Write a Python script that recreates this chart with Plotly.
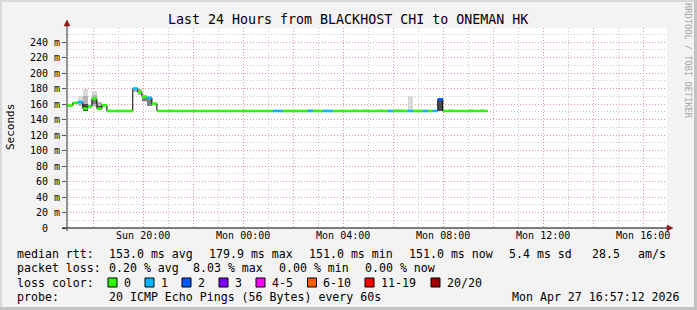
import plotly.graph_objects as go
import pandas as pd

# ---------------- data ----------------
t_start = "2026-04-26 16:57:12"
t_end = "2026-04-27 16:57:12"

# median rtt steps (ms) and packet loss count per step
med_start = [
    "2026-04-26 16:57", "2026-04-26 17:11", "2026-04-26 17:23", "2026-04-26 17:35",
    "2026-04-26 17:47", "2026-04-26 17:57", "2026-04-26 18:09", "2026-04-26 18:21",
    "2026-04-26 18:33", "2026-04-26 19:35", "2026-04-26 19:47", "2026-04-26 19:57",
    "2026-04-26 20:09", "2026-04-26 20:21", "2026-04-26 20:33", "2026-04-27 01:11",
    "2026-04-27 01:35", "2026-04-27 02:35", "2026-04-27 02:47", "2026-04-27 03:11",
    "2026-04-27 03:35", "2026-04-27 05:47", "2026-04-27 05:59", "2026-04-27 06:35",
    "2026-04-27 06:47", "2026-04-27 07:11", "2026-04-27 07:23", "2026-04-27 07:35",
    "2026-04-27 07:47", "2026-04-27 07:59",
]
med_last_end = "2026-04-27 09:47"
med_val = [158, 161.5, 162.5, 154, 157, 167, 154, 158.5, 151, 180, 175.5, 169.5,
           168, 160.5, 151, 151, 151, 151, 151, 151, 151, 151, 151, 151, 151, 151,
           151, 151, 166, 151]
med_loss = [0, 0, 1, 0, 0, 0, 0, 0, 0, 1, 0, 0, 1, 0, 0, 1, 0, 1, 0, 1, 0, 1, 0, 1,
            0, 1, 0, 1, 2, 0]

# smoke (spread of the 20 pings) as bands: start, end, low, high, density level 1..4
smoke_start = [
    "2026-04-26 17:23", "2026-04-26 17:23", "2026-04-26 17:35", "2026-04-26 17:35",
    "2026-04-26 17:35", "2026-04-26 17:47", "2026-04-26 17:57", "2026-04-26 17:57",
    "2026-04-26 17:57", "2026-04-26 18:09", "2026-04-26 18:09", "2026-04-26 18:21",
    "2026-04-26 19:35", "2026-04-26 19:47", "2026-04-26 19:57", "2026-04-26 19:57",
    "2026-04-26 20:09", "2026-04-26 20:09", "2026-04-26 20:21", "2026-04-26 21:01",
    "2026-04-27 02:35", "2026-04-27 04:23", "2026-04-27 04:47", "2026-04-27 05:23",
    "2026-04-27 05:59", "2026-04-27 06:35", "2026-04-27 07:47", "2026-04-27 08:11",
    "2026-04-27 08:59", "2026-04-27 09:28",
]
smoke_end = [
    "2026-04-26 17:35", "2026-04-26 17:35", "2026-04-26 17:47", "2026-04-26 17:47",
    "2026-04-26 17:47", "2026-04-26 17:57", "2026-04-26 18:09", "2026-04-26 18:09",
    "2026-04-26 18:09", "2026-04-26 18:21", "2026-04-26 18:21", "2026-04-26 18:33",
    "2026-04-26 19:47", "2026-04-26 19:57", "2026-04-26 20:09", "2026-04-26 20:09",
    "2026-04-26 20:21", "2026-04-26 20:21", "2026-04-26 20:33", "2026-04-26 21:13",
    "2026-04-27 02:47", "2026-04-27 04:35", "2026-04-27 04:59", "2026-04-27 05:35",
    "2026-04-27 06:23", "2026-04-27 06:47", "2026-04-27 07:59", "2026-04-27 08:23",
    "2026-04-27 09:11", "2026-04-27 09:40",
]
smoke_lo = [157, 158, 151, 151, 151, 153, 156, 158, 160, 152, 152, 155,
            176, 171, 163, 164, 158, 158, 157, 151,
            151, 151, 151, 151, 151, 151, 151, 151, 151, 151]
smoke_hi = [170, 163, 179, 170, 160, 160, 177, 172, 168, 162, 157, 160,
            181, 179, 172, 169, 169, 166, 161, 153.5,
            153.5, 153.5, 153.5, 153.5, 153.5, 170, 166, 153.5, 153.5, 153.5]
smoke_level = [1, 2, 1, 2, 4, 1, 1, 2, 3, 2, 4, 1,
               2, 2, 1, 3, 2, 3, 1, 1,
               1, 1, 1, 1, 1, 1, 4, 1, 1, 1]

loss_labels = ["0", "1", "2", "3", "4-5", "6-10", "11-19", "20/20"]
loss_colors = ["#26ff00", "#00b8ff", "#0059ff", "#7e00ff", "#ff00ff", "#ff5e00",
               "#ff0000", "#a10000"]

y_tick_vals = list(range(0, 241, 20))
y_tick_text = ["0\u00a0\u00a0"] + [f"{v} m" for v in y_tick_vals[1:]]

title_text = "Last 24 Hours from BLACKHOST CHI to ONEMAN HK"
stats_rtt = [("median rtt:", 16), ("153.0 ms avg", 107.6), ("179.9 ms max", 207.6),
             ("151.0 ms min", 307.6), ("151.0 ms now", 407.6), ("5.4 ms sd", 507.6),
             ("28.5", 591), ("am/s", 637)]
stats_loss = [("packet loss:", 16), ("0.20 % avg", 107.6), ("8.03 % max", 192),
              ("0.00 % min", 278), ("0.00 % now", 364)]
probe_text = "20 ICMP Echo Pings (56 Bytes) every 60s"
stamp_text = "Mon Apr 27 16:57:12 2026"

# ---------------- geometry helpers ----------------
W, H = 697, 310
L, R, T, B = 67, 30, 28, 82
PW, PH = W - L - R, H - T - B


def px(x):
    return (x - L) / PW


def py(y):
    return (T + PH - y) / PH


FONT = "DejaVu Sans Mono"
LEG = 11.6
fig = go.Figure()

# smoke bands
shade = {1: "#d9d9d9", 2: "#b4b4b4", 3: "#808080", 4: "#4a4a4a"}
for lvl in (1, 2, 3, 4):
    xs, ws, bs, hs = [], [], [], []
    for s, e, lo, hi, lv in zip(smoke_start, smoke_end, smoke_lo, smoke_hi, smoke_level):
        if lv != lvl:
            continue
        s_, e_ = pd.Timestamp(s), pd.Timestamp(e)
        xs.append(s_ + (e_ - s_) / 2)
        ws.append((e_ - s_).total_seconds() * 1000)
        bs.append(lo)
        hs.append(hi - lo)
    fig.add_trace(go.Bar(x=xs, y=hs, base=bs, width=ws, marker_color=shade[lvl],
                         marker_line_width=0, showlegend=False, hoverinfo="skip"))

# black median step line
step_x = med_start + [med_last_end]
step_y = med_val + [med_val[-1]]
fig.add_trace(go.Scatter(x=step_x, y=step_y, mode="lines", line_shape="hv",
                         line=dict(color="black", width=1), showlegend=False,
                         hoverinfo="skip"))

# colored median segments by loss
seg_end = med_start[1:] + [med_last_end]
for ci, col in enumerate(loss_colors):
    xs, ys = [], []
    for s, e, v, lo in zip(med_start, seg_end, med_val, med_loss):
        if lo == ci:
            xs += [s, e, None]
            ys += [v, v, None]
    if xs:
        fig.add_trace(go.Scatter(x=xs, y=ys, mode="lines",
                                 line=dict(color=col, width=2.6), showlegend=False,
                                 hoverinfo="skip"))

# x ticks every 2 hours, labelled every 4
tick_times = pd.date_range("2026-04-26 18:00", "2026-04-27 16:00", freq="2h")
x_tick_vals = list(tick_times)
x_tick_text = [t.strftime("%a %H:%M") if t.hour % 4 == 0 else "" for t in tick_times]

major_grid = "rgba(240,110,110,0.55)"
minor_grid = "#c9c9c9"

fig.update_xaxes(type="date", range=[t_start, t_end], tickvals=x_tick_vals,
                 ticktext=x_tick_text, showgrid=True, gridcolor=major_grid,
                 griddash="1px,2px", gridwidth=1, ticks="", zeroline=False,
                 showline=False, tickfont=dict(family=FONT, size=10, color="black"),
                 minor=dict(dtick=3600000, tick0="2026-04-26 17:00", showgrid=True,
                            gridcolor=minor_grid, griddash="1px,2px", ticks=""),
                 fixedrange=True)
fig.update_yaxes(range=[0, (PH) / 0.775], tickvals=y_tick_vals, ticktext=y_tick_text,
                 showgrid=True, gridcolor=major_grid, griddash="1px,2px",
                 ticks="outside", ticklen=4, tickcolor="#555", zeroline=False,
                 showline=False, tickfont=dict(family=FONT, size=10, color="black"),
                 minor=dict(dtick=10, tick0=0, showgrid=True, gridcolor=minor_grid,
                            griddash="1px,2px", ticks=""),
                 fixedrange=True)

shapes = []
# frame borders
shapes.append(dict(type="rect", xref="paper", yref="paper", x0=px(0), x1=px(W), y0=py(0),
                   y1=py(2), fillcolor="#d8d8d8", line_width=0))
shapes.append(dict(type="rect", xref="paper", yref="paper", x0=px(0), x1=px(2), y0=py(0),
                   y1=py(H), fillcolor="#d8d8d8", line_width=0))
shapes.append(dict(type="rect", xref="paper", yref="paper", x0=px(W - 3), x1=px(W),
                   y0=py(0), y1=py(H), fillcolor="#c2c2c2", line_width=0))
shapes.append(dict(type="rect", xref="paper", yref="paper", x0=px(0), x1=px(W),
                   y0=py(H - 3), y1=py(H), fillcolor="#c2c2c2", line_width=0))
# axes lines
shapes.append(dict(type="line", xref="paper", yref="paper", x0=px(62), x1=px(668),
                   y0=py(228), y1=py(228), line=dict(color="black", width=1.2)))
shapes.append(dict(type="line", xref="paper", yref="paper", x0=px(67), x1=px(67),
                   y0=py(231), y1=py(25), line=dict(color="#555", width=1.2)))
# arrows
shapes.append(dict(type="path", xref="paper", yref="paper",
                   path=f"M {px(667)},{py(225)} L {px(673)},{py(228)} L {px(667)},{py(231)} Z",
                   fillcolor="#8b1a1a", line=dict(color="#8b1a1a", width=0.5)))
shapes.append(dict(type="path", xref="paper", yref="paper",
                   path=f"M {px(64)},{py(26)} L {px(67)},{py(20)} L {px(70)},{py(26)} Z",
                   fillcolor="#8b1a1a", line=dict(color="#8b1a1a", width=0.5)))
# loss color boxes
box_x = [108, 145, 182, 219, 256, 307.5, 365, 431]
for bx, col in zip(box_x, loss_colors):
    shapes.append(dict(type="rect", xref="paper", yref="paper", x0=px(bx), x1=px(bx + 9),
                       y0=py(278), y1=py(287), fillcolor=col,
                       line=dict(color="black", width=1)))

ann = []


def text(s, x, y, anchor="left", size=LEG, color="black", angle=0, family=FONT):
    ann.append(dict(text=s, x=px(x), y=py(y), xref="paper", yref="paper",
                    xanchor=anchor, yanchor="middle", showarrow=False,
                    textangle=angle, font=dict(family=family, size=size, color=color),
                    borderpad=0))


text(title_text, 348, 19, anchor="center", size=13.3)
text("Seconds", 10, 127, anchor="center", size=11, angle=-90)
text("RRDTOOL / TOBI OETIKER", 688, 61, anchor="center", size=8.7, color="#a8a8a8",
     angle=90)
for s, x in stats_rtt:
    text(s, x, 253.5)
for s, x in stats_loss:
    text(s, x, 268)
text("loss color:", 16, 282.5)
for bx, lab in zip(box_x, loss_labels):
    text(lab, bx + 14.5, 282.5)
text("probe:", 16, 297)
text(probe_text, 107.6, 297)
text(stamp_text, 681, 297, anchor="right")

fig.update_layout(width=W, height=H, margin=dict(l=L, r=R, t=T, b=B, pad=0),
                  paper_bgcolor="#f3f3f3", plot_bgcolor="white", barmode="overlay",
                  bargap=0, showlegend=False, shapes=shapes, annotations=ann)

fig.write_html("out.html", config={"displayModeBar": False})
